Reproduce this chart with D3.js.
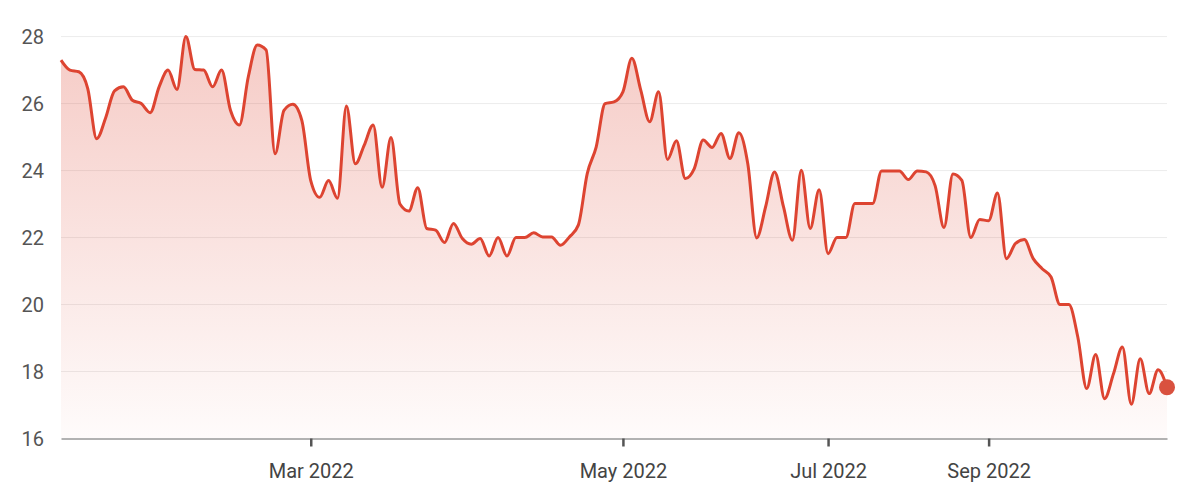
<!DOCTYPE html>
<html>
<head>
<meta charset="utf-8">
<script src="https://cdn.jsdelivr.net/npm/d3@7"></script>
<style>
  body { margin: 0; background: #fff; }
  svg { display: block; font-family: Roboto, "Noto Sans", sans-serif; }
</style>
</head>
<body>
<svg id="chart" width="1200" height="498"></svg>
<script>
// price readings, one per sample (equally spaced on the x axis)
const values = [
  27.3, 27.0, 26.95, 26.45, 24.95, 25.57, 26.38, 26.5, 26.1, 26.0,
  25.73, 26.5, 27.0, 26.42, 28.0, 27.02, 27.0, 26.5, 27.0, 25.8,
  25.36, 26.8, 27.75, 27.6, 24.5, 25.8, 25.98, 25.5, 23.7, 23.2,
  23.7, 23.17, 25.93, 24.2, 24.76, 25.36, 23.5, 24.99, 23.0, 22.79,
  23.49, 22.27, 22.22, 21.85, 22.42, 21.97, 21.8, 21.97, 21.45, 22.0,
  21.45, 22.0, 22.0, 22.14, 22.02, 22.02, 21.77, 22.02, 22.37, 23.91,
  24.7, 26.0, 26.05, 26.35, 27.35, 26.4, 25.46, 26.35, 24.33, 24.89,
  23.76, 24.06, 24.91, 24.69, 25.11, 24.36, 25.13, 24.2, 21.99, 22.92,
  23.96, 22.92, 21.92, 24.01, 22.27, 23.43, 21.52, 22.0, 22.0, 23.02,
  23.02, 23.02, 23.99, 23.99, 23.99, 23.73, 23.99, 23.96, 23.55, 22.3,
  23.9, 23.71, 22.0, 22.54, 22.5, 23.33, 21.37, 21.82, 21.94, 21.37,
  21.07, 20.82, 20.0, 20.0, 19.03, 17.49, 18.51, 17.19, 17.93, 18.73,
  17.02, 18.38, 17.34, 18.05, 17.53
]

// sample index where each month label sits
const tickIndex = [28, 63, 86, 104]
const tickLabels = ['Mar 2022', 'May 2022', 'Jul 2022', 'Sep 2022']
const yTicks = [16, 18, 20, 22, 24, 26, 28]

const plotLeft = 61
const plotRight = 1167
const plotTop = 36.6
const plotBottom = 438.5

const svg = d3.select('#chart')

const x = d3.scaleLinear()
  .domain([0, values.length - 1])
  .range([plotLeft, plotRight])

const y = d3.scaleLinear()
  .domain([16, 28])
  .range([plotBottom, plotTop])

const defs = svg.append('defs')
const grad = defs.append('linearGradient')
  .attr('id', 'fillGrad')
  .attr('x1', 0).attr('y1', 0).attr('x2', 0).attr('y2', 1)
grad.append('stop').attr('offset', '0%').attr('stop-color', '#dd4431').attr('stop-opacity', 0.28)
grad.append('stop').attr('offset', '100%').attr('stop-color', '#dd4431').attr('stop-opacity', 0.02)

// grid lines
svg.append('g')
  .selectAll('line')
  .data(yTicks.slice(1))
  .enter()
  .append('line')
  .attr('x1', plotLeft)
  .attr('x2', plotRight)
  .attr('y1', d => y(d))
  .attr('y2', d => y(d))
  .attr('stroke', '#ececec')
  .attr('stroke-width', 1)

// y labels
svg.append('g')
  .selectAll('text')
  .data(yTicks)
  .enter()
  .append('text')
  .attr('x', 44)
  .attr('y', d => y(d))
  .attr('dy', '0.35em')
  .attr('text-anchor', 'end')
  .attr('fill', '#555')
  .style('font-size', '20px')
  .text(d => d)

const area = d3.area()
  .x((d, i) => x(i))
  .y0(plotBottom)
  .y1(d => y(d))
  .curve(d3.curveMonotoneX)

const line = d3.line()
  .x((d, i) => x(i))
  .y(d => y(d))
  .curve(d3.curveMonotoneX)

svg.append('path')
  .datum(values)
  .attr('d', area)
  .attr('fill', 'url(#fillGrad)')

svg.append('path')
  .datum(values)
  .attr('d', line)
  .attr('fill', 'none')
  .attr('stroke', '#dd4431')
  .attr('stroke-width', 3)
  .attr('stroke-linejoin', 'round')

// x axis
const xAxis = d3.axisBottom(x)
  .tickValues(tickIndex)
  .tickFormat((d, i) => tickLabels[i])
  .tickSize(8)
  .tickSizeOuter(0)

const gx = svg.append('g')
  .attr('transform', `translate(0,${plotBottom})`)
  .call(xAxis)
gx.select('.domain').attr('stroke', '#999').attr('stroke-width', 1.5)
gx.selectAll('.tick line').attr('stroke', '#555').attr('stroke-width', 2.5)
gx.selectAll('.tick text')
  .attr('fill', '#444')
  .attr('y', 25)
  .style('font-size', '20px')
  .style('font-family', 'Roboto, sans-serif')

// last value marker
const last = values.length - 1
svg.append('circle')
  .attr('cx', x(last))
  .attr('cy', y(values[last]))
  .attr('r', 8)
  .attr('fill', '#d9513f')
</script>
</body>
</html>
